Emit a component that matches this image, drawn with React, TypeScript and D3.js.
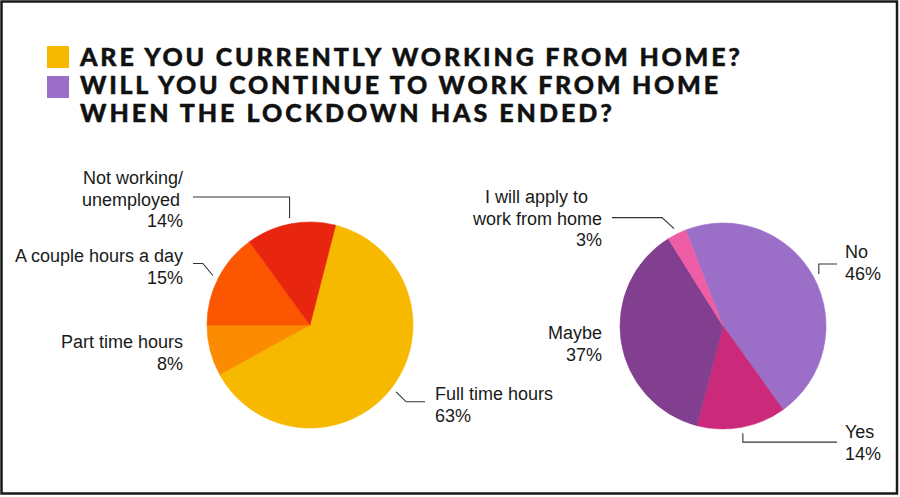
import * as d3 from "d3";

// values (percent)
const workLabels = ["Full time hours", "Part time hours", "A couple hours a day", "Not working/unemployed"];
const workValues = [63, 8, 15, 14];
const workColors = ["#F7B800", "#FB8B00", "#FC5600", "#E8250F"];

const stayLabels = ["No", "Yes", "Maybe", "I will apply to work from home"];
const stayValues = [46, 14, 37, 3];
const stayColors = ["#9B6EC8", "#CB2A7B", "#833F8F", "#EE5EA6"];

const titleLines = [
  "ARE YOU CURRENTLY WORKING FROM HOME?",
  "WILL YOU CONTINUE TO WORK FROM HOME",
  "WHEN THE LOCKDOWN HAS ENDED?",
];

const W = 900;
const H = 497;
const R = 103;
const toRad = (deg: number) => (deg * Math.PI) / 180;

// text placement for each slice label: lines, anchor, x, first baseline
// leader: knee offset from the anchor point on the slice, then horizontal run to endX
type Place = {
  lines: string[];
  anchor: "start" | "end";
  x: number;
  y: number;
  shift?: number[]; // per-line x nudge
  leader?: { dx: number; dy: number; endX: number };
};

const workPlace: Place[] = [
  { lines: ["Full time hours", "63%"], anchor: "start", x: 435, y: 400, leader: { dx: 10, dy: 10, endX: 425 } },
  { lines: ["Part time hours", "8%"], anchor: "end", x: 183, y: 348 },
  { lines: ["A couple hours a day", "15%"], anchor: "end", x: 183, y: 262, leader: { dx: -10, dy: -12, endX: 193 } },
  { lines: ["Not working/", "unemployed", "14%"], anchor: "end", x: 183, y: 184, shift: [0, -3, 0], leader: { dx: 0, dy: -21, endX: 193 } },
];

const stayPlace: Place[] = [
  { lines: ["No", "46%"], anchor: "start", x: 845, y: 258, leader: { dx: 0, dy: -10, endX: 837 } },
  { lines: ["Yes", "14%"], anchor: "start", x: 845, y: 438, leader: { dx: 0, dy: 9, endX: 837 } },
  { lines: ["Maybe", "37%"], anchor: "end", x: 602, y: 339 },
  { lines: ["I will apply to", "work from home", "3%"], anchor: "end", x: 602, y: 203, shift: [-14, 0, 0], leader: { dx: -12, dy: -11, endX: 612 } },
];

function Pie({
  cx,
  cy,
  values,
  colors,
  start,
  places,
}: {
  cx: number;
  cy: number;
  values: number[];
  colors: string[];
  start: number;
  places: Place[];
}) {
  const pie = d3
    .pie<number>()
    .sort(null)
    .value((d) => d)
    .startAngle(toRad(start))
    .endAngle(toRad(start + 360));
  const arcs = pie(values);
  const arc = d3.arc<d3.PieArcDatum<number>>().innerRadius(0).outerRadius(R);

  return (
    <g>
      <g transform={`translate(${cx},${cy})`}>
        {arcs.map((a, i) => (
          <path key={i} d={arc(a) ?? ""} fill={colors[i]} stroke={colors[i]} strokeWidth={0.6} />
        ))}
      </g>
      {arcs.map((a, i) => {
        const p = places[i];
        const out: JSX.Element[] = [];
        if (p.leader) {
          const mid = (a.startAngle + a.endAngle) / 2;
          const ax = cx + Math.sin(mid) * (R + 6);
          const ay = cy - Math.cos(mid) * (R + 6);
          const kx = ax + p.leader.dx;
          const ky = ay + p.leader.dy;
          out.push(
            <polyline
              key={"l" + i}
              points={`${ax},${ay} ${kx},${ky} ${p.leader.endX},${ky}`}
              fill="none"
              stroke="#333"
              strokeWidth={1.1}
            />
          );
        }
        out.push(
          <text
            key={"t" + i}
            x={p.x}
            y={p.y}
            textAnchor={p.anchor}
            fontFamily="'Liberation Sans', Arial, sans-serif"
            fontSize={18}
            fill="#1a1a1a"
          >
            {p.lines.map((ln, j) => (
              <tspan key={j} x={p.x + (p.shift ? p.shift[j] : 0)} dy={j === 0 ? 0 : 21.5}>
                {ln}
              </tspan>
            ))}
          </text>
        );
        return <g key={i}>{out}</g>;
      })}
    </g>
  );
}

export default function App() {
  const titleWidths = [660, 638, 532];
  const titleY = [66, 94, 122];
  return (
    <svg
      width={W}
      height={H}
      viewBox={`0 0 ${W} ${H}`}
      style={{ position: "absolute", left: 0, top: 0, background: "#fff" }}
    >
      <rect x={0} y={0} width={W} height={H} fill="#fff" />
      <rect x={1.5} y={1.5} width={895.5} height={492} fill="none" stroke="#1a1a1a" strokeWidth={2.5} />

      {/* legend */}
      <rect x={47} y={46} width={22} height={22} fill={workColors[0]} />
      <rect x={47} y={76} width={22} height={22} fill={stayColors[0]} />
      {titleLines.map((t, i) => (
        <text
          key={i}
          x={80}
          y={titleY[i]}
          textLength={titleWidths[i]}
          lengthAdjust="spacing"
          fontFamily="Lato, 'Open Sans', sans-serif"
          fontWeight={900}
          fontSize={25}
          fill="#111"
          stroke="#111"
          strokeWidth={0.45}
        >
          {t}
        </text>
      ))}

      <Pie cx={310} cy={325} values={workValues} colors={workColors} start={14.4} places={workPlace} />
      <Pie cx={723} cy={326} values={stayValues} colors={stayColors} start={-21.3} places={stayPlace} />
    </svg>
  );
}
